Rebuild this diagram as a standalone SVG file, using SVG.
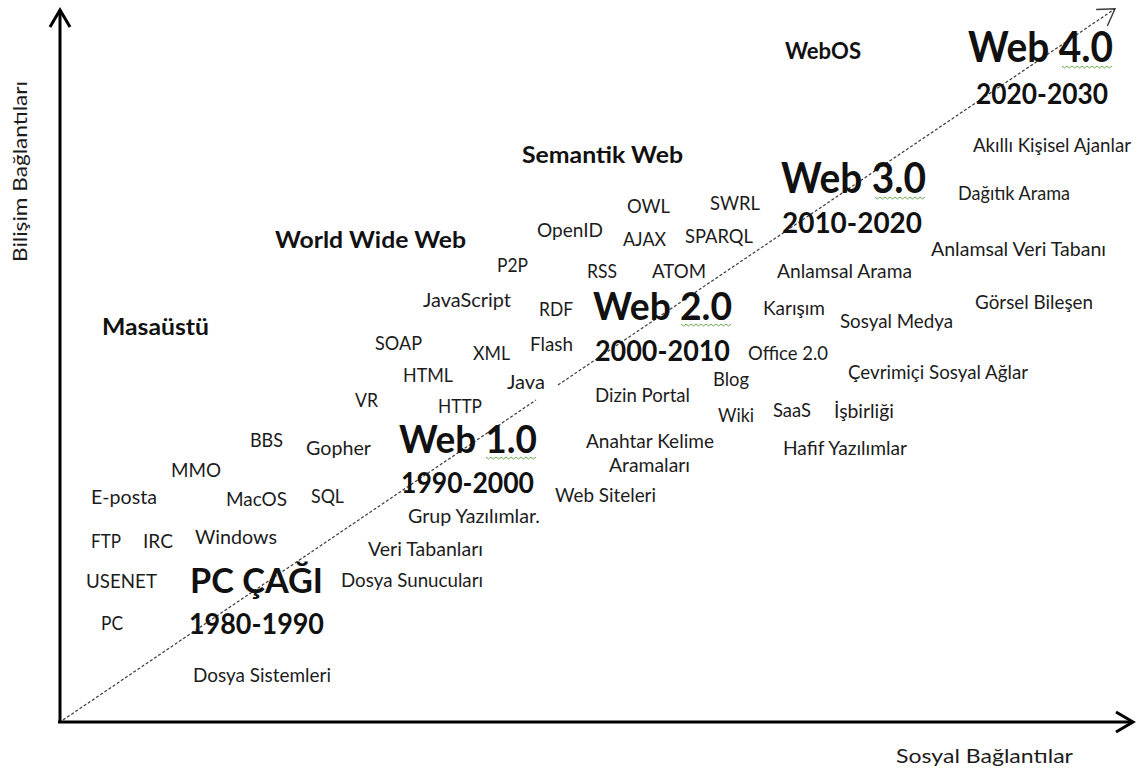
<svg xmlns="http://www.w3.org/2000/svg" xmlns:xlink="http://www.w3.org/1999/xlink" width="1139" height="771" viewBox="0 0 1139 771">
<style>
text { font-family: Lato, "Liberation Sans", sans-serif; fill: #1c1c1c; }
.t { font-size: 19px; }
.ax { font-size: 20px; }
.h { font-size: 23px; font-weight: 700; fill: #111; }
.big { font-size: 42px; font-weight: 700; fill: #111; }
.mid { font-size: 38px; font-weight: 700; fill: #111; }
.yr { font-size: 29px; font-weight: 700; fill: #111; }
.pc { font-size: 35px; font-weight: 700; fill: #111; }
.axis { stroke: #000; stroke-width: 3; fill: none; }
.diag { stroke: #3a3a3a; stroke-width: 1.2; stroke-dasharray: 3 2; fill: none; }
.sq { stroke: #6aa84f; stroke-width: 1; fill: none; }
</style>
<defs>
<marker id="axHead" markerUnits="userSpaceOnUse" viewBox="0 0 24 24" markerWidth="24" markerHeight="24" refX="20" refY="12" orient="auto">
<path d="M3,2 L20,12 L3,22" stroke="#000" stroke-width="3" fill="none" stroke-linejoin="miter"/>
</marker>
<marker id="diagHead" markerUnits="userSpaceOnUse" viewBox="0 0 20 22" markerWidth="20" markerHeight="22" refX="17" refY="11" orient="auto">
<path d="M1,1 L17,11 L1,21" stroke="#3a3a3a" stroke-width="1.4" fill="none"/>
</marker>
<path id="squig" class="sq" d="M0,0 l2.5,2 l2.5,-2 l2.5,2 l2.5,-2 l2.5,2 l2.5,-2 l2.5,2 l2.5,-2 l2.5,2 l2.5,-2 l2.5,2 l2.5,-2 l2.5,2 l2.5,-2 l2.5,2 l2.5,-2 l2.5,2 l2.5,-2 l2.5,2 l2.5,-2"/>
</defs>
<rect width="1139" height="771" fill="#fff"/>

<g id="connectors">
<line class="axis" x1="60" y1="722" x2="60" y2="10" marker-end="url(#axHead)"/>
<line class="axis" x1="58" y1="722" x2="1133" y2="722" marker-end="url(#axHead)"/>
<line class="diag" x1="63" y1="720" x2="536" y2="400"/>
<line class="diag" x1="558" y1="385" x2="1115" y2="8.8" marker-end="url(#diagHead)"/>
</g>

<g id="axis-labels">
<g id="n-sosyal-baglantilar"><text class="ax" x="896" y="763" textLength="177" lengthAdjust="spacingAndGlyphs">Sosyal Bağlantılar</text></g>
<g id="n-bilisim-baglantilari"><text class="ax" transform="translate(27,262) rotate(-90)" textLength="181" lengthAdjust="spacingAndGlyphs">Bilişim Bağlantıları</text></g>
</g>

<g id="eras">
<g id="n-pc-cagi"><text class="pc" x="190" y="593" textLength="133" lengthAdjust="spacingAndGlyphs">PC ÇAĞI</text><text class="yr" x="189" y="634" textLength="135" lengthAdjust="spacingAndGlyphs">1980-1990</text></g>
<g id="n-web10"><text class="mid" x="399" y="453" textLength="138" lengthAdjust="spacingAndGlyphs">Web 1.0</text><use xlink:href="#squig" x="486" y="457"/><text class="yr" x="401" y="493" textLength="133" lengthAdjust="spacingAndGlyphs">1990-2000</text></g>
<g id="n-web20"><text class="mid" x="593" y="320" textLength="139" lengthAdjust="spacingAndGlyphs">Web 2.0</text><use xlink:href="#squig" x="681" y="324"/><text class="yr" x="595" y="361" textLength="135" lengthAdjust="spacingAndGlyphs">2000-2010</text></g>
<g id="n-web30"><text class="big" x="781" y="193" textLength="145" lengthAdjust="spacingAndGlyphs">Web 3.0</text><use xlink:href="#squig" x="875" y="197"/><text class="yr" x="782" y="233" textLength="140" lengthAdjust="spacingAndGlyphs">2010-2020</text></g>
<g id="n-web40"><text class="big" x="968" y="62" textLength="145" lengthAdjust="spacingAndGlyphs">Web 4.0</text><use xlink:href="#squig" x="1062" y="66"/><text class="yr" x="976" y="104" textLength="132" lengthAdjust="spacingAndGlyphs">2020-2030</text></g>
</g>

<g id="categories">
<g id="n-masaustu"><text class="h" x="102" y="335" textLength="107" lengthAdjust="spacingAndGlyphs">Masaüstü</text></g>
<g id="n-www"><text class="h" x="275" y="248" textLength="191" lengthAdjust="spacingAndGlyphs">World Wide Web</text></g>
<g id="n-semantik"><text class="h" x="522" y="163" textLength="161" lengthAdjust="spacingAndGlyphs">Semantik Web</text></g>
<g id="n-webos"><text class="h" x="785" y="59" textLength="76" lengthAdjust="spacingAndGlyphs">WebOS</text></g>
</g>

<g id="terms">
<g id="n-owl"><text class="t" x="627" y="213" textLength="43" lengthAdjust="spacingAndGlyphs">OWL</text></g>
<g id="n-swrl"><text class="t" x="710" y="210" textLength="50" lengthAdjust="spacingAndGlyphs">SWRL</text></g>
<g id="n-openid"><text class="t" x="537" y="237" textLength="66" lengthAdjust="spacingAndGlyphs">OpenID</text></g>
<g id="n-ajax"><text class="t" x="623" y="246" textLength="43" lengthAdjust="spacingAndGlyphs">AJAX</text></g>
<g id="n-sparql"><text class="t" x="685" y="243" textLength="68" lengthAdjust="spacingAndGlyphs">SPARQL</text></g>
<g id="n-p2p"><text class="t" x="497" y="272" textLength="31" lengthAdjust="spacingAndGlyphs">P2P</text></g>
<g id="n-rss"><text class="t" x="587" y="278" textLength="30" lengthAdjust="spacingAndGlyphs">RSS</text></g>
<g id="n-atom"><text class="t" x="652" y="278" textLength="54" lengthAdjust="spacingAndGlyphs">ATOM</text></g>
<g id="n-javascript"><text class="t" x="423" y="307" textLength="88" lengthAdjust="spacingAndGlyphs">JavaScript</text></g>
<g id="n-rdf"><text class="t" x="539" y="316" textLength="34" lengthAdjust="spacingAndGlyphs">RDF</text></g>
<g id="n-soap"><text class="t" x="375" y="350" textLength="47" lengthAdjust="spacingAndGlyphs">SOAP</text></g>
<g id="n-xml"><text class="t" x="473" y="360" textLength="37" lengthAdjust="spacingAndGlyphs">XML</text></g>
<g id="n-flash"><text class="t" x="530" y="351" textLength="43" lengthAdjust="spacingAndGlyphs">Flash</text></g>
<g id="n-html"><text class="t" x="403" y="382" textLength="50" lengthAdjust="spacingAndGlyphs">HTML</text></g>
<g id="n-java"><text class="t" x="507" y="389" textLength="38" lengthAdjust="spacingAndGlyphs">Java</text></g>
<g id="n-blog"><text class="t" x="713" y="386" textLength="36" lengthAdjust="spacingAndGlyphs">Blog</text></g>
<g id="n-dizin-portal"><text class="t" x="595" y="402" textLength="95" lengthAdjust="spacingAndGlyphs">Dizin Portal</text></g>
<g id="n-http"><text class="t" x="438" y="413" textLength="44" lengthAdjust="spacingAndGlyphs">HTTP</text></g>
<g id="n-wiki"><text class="t" x="718" y="422" textLength="36" lengthAdjust="spacingAndGlyphs">Wiki</text></g>
<g id="n-anahtar"><text class="t" x="586" y="448" textLength="128" lengthAdjust="spacingAndGlyphs">Anahtar Kelime</text><text class="t" x="609" y="472" textLength="81" lengthAdjust="spacingAndGlyphs">Aramaları</text></g>
<g id="n-web-siteleri"><text class="t" x="555" y="502" textLength="101" lengthAdjust="spacingAndGlyphs">Web Siteleri</text></g>
<g id="n-grup"><text class="t" x="408" y="523" textLength="132" lengthAdjust="spacingAndGlyphs">Grup Yazılımlar.</text></g>
<g id="n-veri-tabanlari"><text class="t" x="368" y="556" textLength="115" lengthAdjust="spacingAndGlyphs">Veri Tabanları</text></g>
<g id="n-dosya-sunuculari"><text class="t" x="341" y="587" textLength="142" lengthAdjust="spacingAndGlyphs">Dosya Sunucuları</text></g>
<g id="n-vr"><text class="t" x="355" y="407" textLength="23" lengthAdjust="spacingAndGlyphs">VR</text></g>
<g id="n-bbs"><text class="t" x="250" y="447" textLength="33" lengthAdjust="spacingAndGlyphs">BBS</text></g>
<g id="n-gopher"><text class="t" x="306" y="455" textLength="65" lengthAdjust="spacingAndGlyphs">Gopher</text></g>
<g id="n-mmo"><text class="t" x="171" y="477" textLength="50" lengthAdjust="spacingAndGlyphs">MMO</text></g>
<g id="n-eposta"><text class="t" x="91" y="504" textLength="66" lengthAdjust="spacingAndGlyphs">E-posta</text></g>
<g id="n-macos"><text class="t" x="226" y="506" textLength="61" lengthAdjust="spacingAndGlyphs">MacOS</text></g>
<g id="n-sql"><text class="t" x="311" y="503" textLength="33" lengthAdjust="spacingAndGlyphs">SQL</text></g>
<g id="n-ftp"><text class="t" x="91" y="548" textLength="30" lengthAdjust="spacingAndGlyphs">FTP</text></g>
<g id="n-irc"><text class="t" x="143" y="548" textLength="30" lengthAdjust="spacingAndGlyphs">IRC</text></g>
<g id="n-windows"><text class="t" x="195" y="544" textLength="82" lengthAdjust="spacingAndGlyphs">Windows</text></g>
<g id="n-usenet"><text class="t" x="86" y="588" textLength="71" lengthAdjust="spacingAndGlyphs">USENET</text></g>
<g id="n-pc"><text class="t" x="101" y="630" textLength="22" lengthAdjust="spacingAndGlyphs">PC</text></g>
<g id="n-dosya-sistemleri"><text class="t" x="193" y="682" textLength="138" lengthAdjust="spacingAndGlyphs">Dosya Sistemleri</text></g>
<g id="n-anlamsal-arama"><text class="t" x="777" y="278" textLength="135" lengthAdjust="spacingAndGlyphs">Anlamsal Arama</text></g>
<g id="n-karisim"><text class="t" x="763" y="315" textLength="62" lengthAdjust="spacingAndGlyphs">Karışım</text></g>
<g id="n-gorsel"><text class="t" x="975" y="309" textLength="118" lengthAdjust="spacingAndGlyphs">Görsel Bileşen</text></g>
<g id="n-sosyal-medya"><text class="t" x="840" y="328" textLength="113" lengthAdjust="spacingAndGlyphs">Sosyal Medya</text></g>
<g id="n-office"><text class="t" x="748" y="360" textLength="80" lengthAdjust="spacingAndGlyphs">Office 2.0</text></g>
<g id="n-cevrimici"><text class="t" x="848" y="379" textLength="180" lengthAdjust="spacingAndGlyphs">Çevrimiçi Sosyal Ağlar</text></g>
<g id="n-saas"><text class="t" x="773" y="417" textLength="38" lengthAdjust="spacingAndGlyphs">SaaS</text></g>
<g id="n-isbirligi"><text class="t" x="834" y="418" textLength="60" lengthAdjust="spacingAndGlyphs">İşbirliği</text></g>
<g id="n-hafif"><text class="t" x="783" y="455" textLength="124" lengthAdjust="spacingAndGlyphs">Hafif Yazılımlar</text></g>
<g id="n-akilli"><text class="t" x="973" y="152" textLength="158" lengthAdjust="spacingAndGlyphs">Akıllı Kişisel Ajanlar</text></g>
<g id="n-dagitik"><text class="t" x="958" y="200" textLength="112" lengthAdjust="spacingAndGlyphs">Dağıtık Arama</text></g>
<g id="n-anlamsal-veri"><text class="t" x="931" y="256" textLength="175" lengthAdjust="spacingAndGlyphs">Anlamsal Veri Tabanı</text></g>
</g>
</svg>
